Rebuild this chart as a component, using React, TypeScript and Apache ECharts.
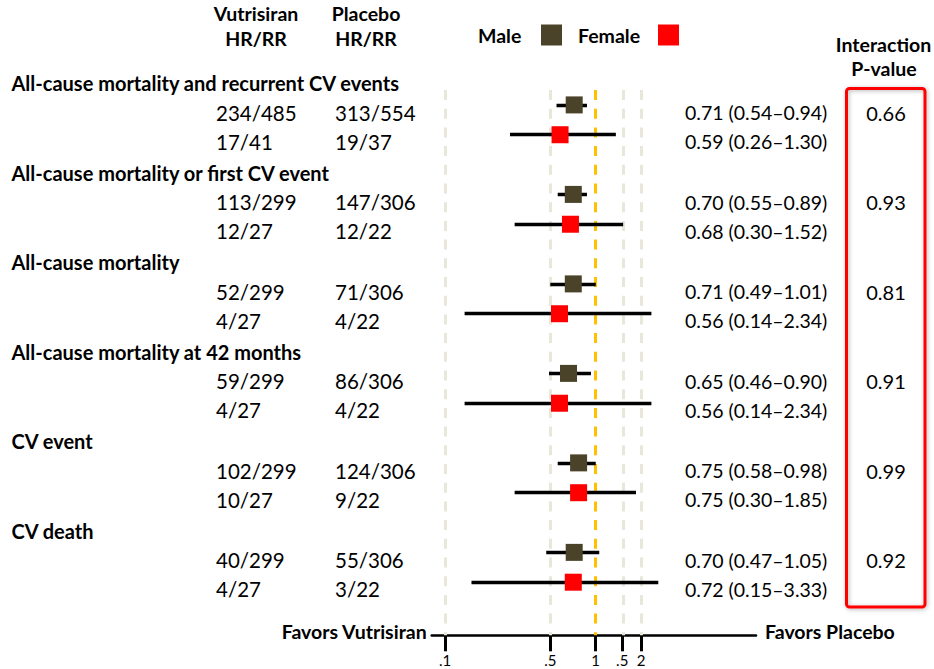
import React, { useEffect, useRef } from 'react';
import * as echarts from 'echarts';

// ---------- data ----------
const groups = [
  'All-cause mortality and recurrent CV events',
  'All-cause mortality or first CV event',
  'All-cause mortality',
  'All-cause mortality at 42 months',
  'CV event',
  'CV death',
];
const maleVutrisiran = ['234/485', '113/299', '52/299', '59/299', '102/299', '40/299'];
const malePlacebo = ['313/554', '147/306', '71/306', '86/306', '124/306', '55/306'];
const femaleVutrisiran = ['17/41', '12/27', '4/27', '4/27', '10/27', '4/27'];
const femalePlacebo = ['19/37', '12/22', '4/22', '4/22', '9/22', '3/22'];
const maleHRText = ['0.71 (0.54–0.94)', '0.70 (0.55–0.89)', '0.71 (0.49–1.01)', '0.65 (0.46–0.90)', '0.75 (0.58–0.98)', '0.70 (0.47–1.05)'];
const femaleHRText = ['0.59 (0.26–1.30)', '0.68 (0.30–1.52)', '0.56 (0.14–2.34)', '0.56 (0.14–2.34)', '0.75 (0.30–1.85)', '0.72 (0.15–3.33)'];
const pValues = ['0.66', '0.93', '0.81', '0.91', '0.99', '0.92'];

// plotted positions
const maleEst = [0.72, 0.71, 0.71, 0.66, 0.77, 0.72];
const maleLow = [0.55, 0.56, 0.5, 0.49, 0.56, 0.47];
const maleHigh = [0.875, 0.875, 1.0, 0.93, 1.0, 1.055];
const femaleEst = [0.58, 0.68, 0.575, 0.575, 0.77, 0.71];
const femaleLow = [0.27, 0.29, 0.135, 0.135, 0.29, 0.15];
const femaleHigh = [1.36, 1.52, 2.34, 2.34, 1.85, 2.6];

const tickValues = [0.1, 0.5, 1, 1.5, 2];
const tickLabels = ['.1', '.5', '1', '.5', '2'];
const axisMinValue = 0.0816;
const axisMaxValue = 11.58;

const FONT = 'Lato';
const MALE_COLOR = '#4b4329';
const FEMALE_COLOR = '#ff0000';

const lg = (v: number) => Math.log10(v);

export default function App() {
  const ref = useRef<HTMLDivElement>(null);

  useEffect(() => {
    const chart = echarts.init(ref.current!, null, { renderer: 'svg' });

    const maleRows = groups.map((_, g) => 3 * g + 1);
    const femaleRows = groups.map((_, g) => 3 * g + 2);

    const ciCoords = [
      ...groups.map((_, g) => ({ coords: [[lg(maleLow[g]), maleRows[g]], [lg(maleHigh[g]), maleRows[g]]] })),
      ...groups.map((_, g) => ({ coords: [[lg(femaleLow[g]), femaleRows[g]], [lg(femaleHigh[g]), femaleRows[g]]] })),
    ];

    const tickLogs = tickValues.map(lg);
    const labelFor = (v: number) => {
      let best = 0;
      tickLogs.forEach((t, i) => {
        if (Math.abs(t - v) < Math.abs(tickLogs[best] - v)) best = i;
      });
      return tickLabels[best];
    };

    const gridColor = '#e9e6da';

    chart.setOption({
      animation: false,
      grid: { left: 431.7, right: 178, top: 90, bottom: 33.7 },
      xAxis: {
        type: 'value',
        min: lg(axisMinValue),
        max: lg(axisMaxValue),
        splitLine: { show: false },
        axisLine: { show: true, lineStyle: { color: '#000', width: 2.5 } },
        axisTick: {
          show: true,
          customValues: tickLogs,
          length: 16,
          lineStyle: { color: '#000', width: 3 },
        },
        axisLabel: {
          show: true,
          customValues: tickLogs,
          formatter: (v: number) => labelFor(v),
          color: '#000',
          fontFamily: FONT,
          fontSize: 15,
          margin: 17,
        },
      },
      yAxis: { type: 'value', inverse: true, min: 0.5, max: 18.78, show: false },
      series: [
        {
          type: 'lines',
          coordinateSystem: 'cartesian2d',
          silent: true,
          lineStyle: { color: 'rgba(0,0,0,0.25)', width: 5, opacity: 1 },
          data: ciCoords,
          z: 2,
        },
        {
          type: 'lines',
          coordinateSystem: 'cartesian2d',
          silent: true,
          lineStyle: { color: '#000', width: 3, opacity: 1 },
          data: ciCoords,
          z: 3,
        },
        {
          name: 'Male',
          type: 'scatter',
          symbol: 'rect',
          symbolSize: 17,
          itemStyle: { color: MALE_COLOR, opacity: 1 },
          data: groups.map((_, g) => [lg(maleEst[g]), maleRows[g]]),
          z: 5,
          silent: true,
          markLine: {
            silent: true,
            symbol: ['none', 'none'],
            label: { show: false },
            lineStyle: { type: [10, 8.7], width: 3, color: gridColor },
            data: [
              { xAxis: lg(0.1) },
              { xAxis: lg(0.5) },
              { xAxis: lg(1.5) },
              { xAxis: lg(2) },
              { xAxis: lg(1), lineStyle: { color: '#ffc000', type: [10, 8.7], width: 3 } },
            ],
            z: 1,
          },
        },
        {
          name: 'Female',
          type: 'scatter',
          symbol: 'rect',
          symbolSize: 17,
          itemStyle: { color: FEMALE_COLOR, opacity: 1 },
          data: groups.map((_, g) => [lg(femaleEst[g]), femaleRows[g]]),
          z: 5,
          silent: true,
        },
      ],
    });

    const rowY = (r: number) => chart.convertToPixel({ yAxisIndex: 0 }, r) as number;

    const txt = (
      text: string,
      x: number,
      y: number,
      opts: { bold?: boolean; size?: number; align?: string } = {}
    ) => ({
      type: 'text',
      x,
      y,
      silent: true,
      style: {
        text,
        fill: '#000',
        fontFamily: FONT,
        fontSize: opts.size ?? 20,
        fontWeight: opts.bold ? 'bold' : 'normal',
        textAlign: opts.align ?? 'left',
        textVerticalAlign: 'middle',
        align: opts.align ?? 'left',
        verticalAlign: 'middle',
      },
    });

    const B = 19.5;
    const elements: any[] = [];
    // column headers
    elements.push(txt('Vutrisiran', 256, 13, { bold: true, size: B, align: 'center' }));
    elements.push(txt('HR/RR', 256, 38, { bold: true, size: B, align: 'center' }));
    elements.push(txt('Placebo', 366, 13, { bold: true, size: B, align: 'center' }));
    elements.push(txt('HR/RR', 366, 38, { bold: true, size: B, align: 'center' }));
    // legend
    elements.push(txt('Male', 478, 35, { bold: true, size: B }));
    elements.push({ type: 'rect', shape: { x: 541, y: 24.5, width: 21, height: 21 }, style: { fill: MALE_COLOR } });
    elements.push(txt('Female', 578, 35, { bold: true, size: B }));
    elements.push({ type: 'rect', shape: { x: 658, y: 24.5, width: 21, height: 21 }, style: { fill: FEMALE_COLOR } });
    // interaction header
    elements.push(txt('Interaction', 883.5, 44, { bold: true, size: B, align: 'center' }));
    elements.push(txt('P-value', 884, 68, { bold: true, size: B, align: 'center' }));
    // favors labels
    elements.push(txt('Favors Vutrisiran', 426.7, 631.7, { bold: true, size: B, align: 'right' }));
    elements.push(txt('Favors Placebo', 765, 631.7, { bold: true, size: B }));
    // red box
    elements.push({
      type: 'rect',
      shape: { x: 846.5, y: 88.5, width: 78.5, height: 518.5, r: 3 },
      style: {
        fill: 'none',
        stroke: '#ff0000',
        lineWidth: 3,
        shadowBlur: 4,
        shadowColor: 'rgba(0,0,0,0.3)',
        shadowOffsetX: 1,
        shadowOffsetY: 1,
      },
      silent: true,
    });

    groups.forEach((name, g) => {
      const hy = rowY(3 * g) + 8;
      const my = rowY(maleRows[g]) + 8;
      const fy = rowY(femaleRows[g]) + 7;
      elements.push(txt(name, 11.5, hy, { bold: true, size: 20 }));
      elements.push(txt(maleVutrisiran[g], 216, my, { size: 20.5 }));
      elements.push(txt(malePlacebo[g], 335, my, { size: 20.5 }));
      elements.push(txt(femaleVutrisiran[g], 216, fy, { size: 20.5 }));
      elements.push(txt(femalePlacebo[g], 335, fy, { size: 20.5 }));
      elements.push(txt(maleHRText[g], 685, my, { size: 19.5 }));
      elements.push(txt(femaleHRText[g], 685, fy, { size: 19.5 }));
      elements.push(txt(pValues[g], 886, my, { size: 20, align: 'center' }));
    });

    chart.setOption({ graphic: { elements } });

    return () => chart.dispose();
  }, []);

  return (
    <div
      ref={ref}
      style={{ position: 'fixed', left: 0, top: 0, width: 934, height: 669, background: '#fff' }}
    />
  );
}
